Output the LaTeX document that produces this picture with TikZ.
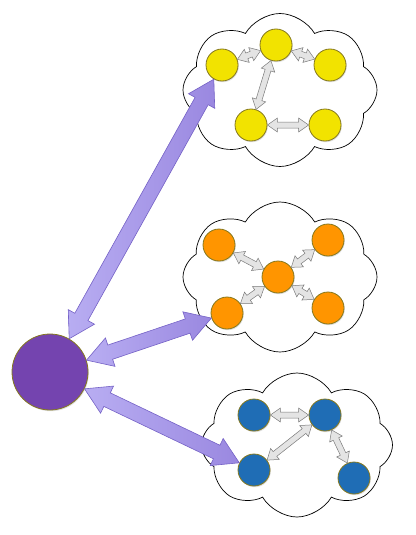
\documentclass[tikz,border=0pt]{standalone}
\usetikzlibrary{calc,shapes.symbols,shadows}
\definecolor{dotyellow}{HTML}{F2E300}
\definecolor{dotorange}{HTML}{FF9500}
\definecolor{dotblue}{HTML}{1F6DB5}
\definecolor{dotpurple}{HTML}{7444AF}
\definecolor{dotrim}{HTML}{85781E}
\definecolor{lavlight}{HTML}{B8ADF2}
\definecolor{lavdark}{HTML}{9A88E0}
\definecolor{lavrim}{HTML}{7562C6}
\definecolor{greyfill}{HTML}{E4E4E4}
\definecolor{greyrim}{HTML}{7A7A7A}
\tikzset{
  dot/.style={circle, draw=dotrim, line width=0.8pt, minimum size=32pt, inner sep=0pt,
    drop shadow={opacity=0.25, shadow xshift=0.8pt, shadow yshift=-1.2pt}},
  blob/.style={cloud, draw, line width=0.7pt, cloud puffs=8, cloud puff arc=120,
    cloud ignores aspect, inner sep=0pt},
  arrow shaft/.store in=\arrowshaft,
  arrow head/.store in=\arrowhead,
  arrow len/.store in=\arrowlen,
  fatarrow/.style={to path={
    let \p1=(\tikztostart), \p2=(\tikztotarget),
        \n1={mod(atan2(\y2-\y1,\x2-\x1)+360,360)}, \n2={mod(\n1+180,360)},
        \p3=(\tikztostart.\n1), \p4=(\tikztotarget.\n2) in
    (\p3)
    -- ($(\p3)!\arrowlen!(\p4)!\arrowhead!90:(\p4)$)
    -- ($(\p3)!\arrowlen!(\p4)!\arrowshaft!90:(\p4)$)
    -- ($(\p4)!\arrowlen!(\p3)!\arrowshaft!-90:(\p3)$)
    -- ($(\p4)!\arrowlen!(\p3)!\arrowhead!-90:(\p3)$)
    -- (\p4)
    -- ($(\p4)!\arrowlen!(\p3)!\arrowhead!90:(\p3)$)
    -- ($(\p4)!\arrowlen!(\p3)!\arrowshaft!90:(\p3)$)
    -- ($(\p3)!\arrowlen!(\p4)!\arrowshaft!-90:(\p4)$)
    -- ($(\p3)!\arrowlen!(\p4)!\arrowhead!-90:(\p4)$)
    -- cycle}},
  bigarrow/.style={fatarrow, arrow shaft=7.5pt, arrow head=15pt, arrow len=25pt,
    draw=lavrim, line width=0.6pt, left color=lavlight, right color=lavdark},
  smallarrow/.style={fatarrow, arrow shaft=3pt, arrow head=7pt, arrow len=10pt,
    draw=greyrim, line width=0.5pt, fill=greyfill},
}
\begin{document}
\begin{tikzpicture}[x=1pt,y=-1pt]
  \useasboundingbox (0,0) rectangle (415,535);
  % clouds
  \node [blob, minimum width=194pt, minimum height=153pt] (c1) at (280,90) {};
  \node [blob, minimum width=194pt, minimum height=150pt] (c2) at (280,277) {};
  \node [blob, minimum width=191pt, minimum height=144pt] (c3) at (297,445) {};
  % hub
  \node [dot, fill=dotpurple, minimum size=76pt] (p) at (50,372) {};
  % yellow group
  \node [dot, fill=dotyellow] (y1) at (222,65) {};
  \node [dot, fill=dotyellow] (y2) at (276,45) {};
  \node [dot, fill=dotyellow] (y3) at (330,65) {};
  \node [dot, fill=dotyellow] (y4) at (251,125) {};
  \node [dot, fill=dotyellow] (y5) at (325,125) {};
  % orange group
  \node [dot, fill=dotorange] (o1) at (219,245) {};
  \node [dot, fill=dotorange] (o2) at (328,240) {};
  \node [dot, fill=dotorange] (o3) at (278,277) {};
  \node [dot, fill=dotorange] (o4) at (227,313) {};
  \node [dot, fill=dotorange] (o5) at (328,308) {};
  % blue group
  \node [dot, fill=dotblue] (b1) at (254,415) {};
  \node [dot, fill=dotblue] (b2) at (325,415) {};
  \node [dot, fill=dotblue] (b3) at (254,470) {};
  \node [dot, fill=dotblue] (b4) at (354,478) {};
  \draw [smallarrow] (y1) to (y2);
  \draw [smallarrow] (y2) to (y3);
  \draw [smallarrow] (y2) to (y4);
  \draw [smallarrow] (y4) to (y5);
  \draw [smallarrow] (o1) to (o3);
  \draw [smallarrow] (o2) to (o3);
  \draw [smallarrow] (o4) to (o3);
  \draw [smallarrow] (o5) to (o3);
  \draw [smallarrow] (b1) to (b2);
  \draw [smallarrow] (b2) to (b3);
  \draw [smallarrow] (b2) to (b4);
  \draw [bigarrow] (p) to (y1);
  \draw [bigarrow] (p) to (o4);
  \draw [bigarrow] (p) to (b3);
\end{tikzpicture}
\end{document}
